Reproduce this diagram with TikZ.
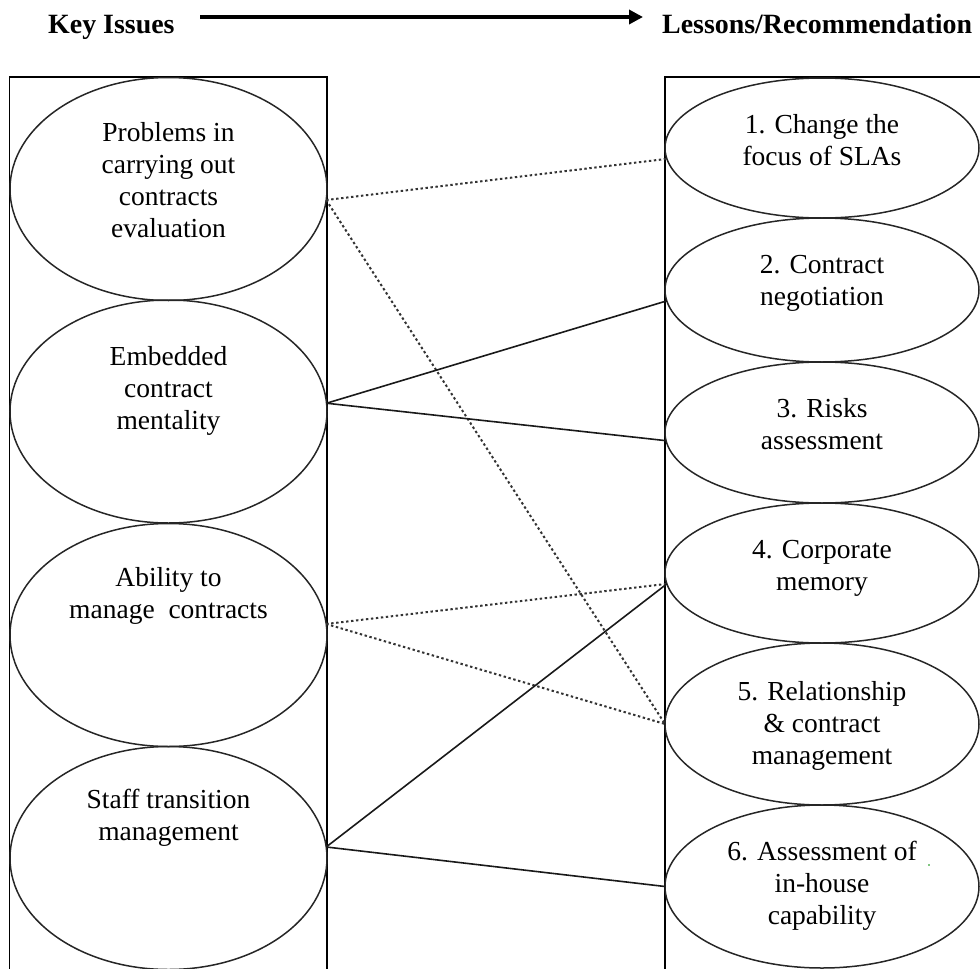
\documentclass[tikz,border=0pt]{standalone}
\usepackage{fontspec}
\setmainfont{Liberation Serif}
\usetikzlibrary{arrows.meta,shapes.geometric}

\begin{document}
\begin{tikzpicture}[x=1pt,y=-1pt,
  heading/.style={font=\bfseries\fontsize{27.9}{32}\selectfont, inner sep=0pt, anchor=base west},
  panel/.style={draw=black, line width=1.8pt},
  bubble/.style={ellipse, draw=black!85, line width=1.5pt, inner sep=0pt, outer sep=0pt},
  lbubble/.style={bubble, minimum width=317pt, minimum height=223pt},
  rbubble/.style={bubble, minimum width=314pt},
  caption/.style={font=\fontsize{27.5}{32}\selectfont, align=center, inner sep=0pt, anchor=north},
  solidlink/.style={draw=black!90, line width=1.6pt},
  dotlink/.style={draw=black!80, line width=2pt, dash pattern=on 2.4pt off 2.6pt},
]
\useasboundingbox (0,0) rectangle (980,969);
\clip (0,0) rectangle (980,969);

% headings and the arrow between them
\node[heading] (ki) at (48,33) {Key Issues};
\node[heading] (lr) at (662,33) {Lessons/Recommendation};
\coordinate (arrS) at (200,17);
\coordinate (arrE) at (643,17);
\draw[line width=3.4pt, -{Triangle[length=14pt,width=14pt]}] (arrS) -- (arrE);

% the two columns
\draw[panel] (9.5,77) rectangle (327,969.7);
\draw[panel] (665,77) rectangle (995,969.7);

% key issues
\node[lbubble] (L1) at (168.5,189) {};
\node[lbubble] (L2) at (168.5,411.5) {};
\node[lbubble] (L3) at (168.5,635) {};
\node[lbubble] (L4) at (168.5,858) {};

\node[caption] (L1t) at (168.5,118.6) {\strut Problems in\\carrying out\\contracts\\evaluation};
\node[caption] (L2t) at (168.5,342.6) {\strut Embedded\\contract\\mentality};
\node[caption] (L3t) at (168.5,563.6) {\strut Ability to\\manage\ \ contracts};
\node[caption] (L4t) at (168.5,785.6) {\strut Staff transition\\management};

% lessons / recommendations
\node[rbubble, minimum height=140pt] (R1) at (822,148) {};
\node[rbubble, minimum height=144pt] (R2) at (822,290) {};
\node[rbubble, minimum height=141pt] (R3) at (822,432.5) {};
\node[rbubble, minimum height=140pt] (R4) at (822,573) {};
\node[rbubble, minimum height=162pt] (R5) at (822,724) {};
\node[rbubble, minimum height=163pt] (R6) at (822,886.5) {};

\node[caption] (R1t) at (822,110.6) {\strut 1. Change the\\focus of SLAs};
\node[caption] (R2t) at (822,250.6) {\strut 2. Contract\\negotiation};
\node[caption] (R3t) at (822,394.6) {\strut 3. Risks\\assessment};
\node[caption] (R4t) at (822,535.6) {\strut 4. Corporate\\memory};
\node[caption] (R5t) at (822,677.6) {\strut 5. Relationship\\\& contract\\management};
\node[caption] (R6t) at (822,837.6) {\strut 6. Assessment of\\in-house\\capability};
\fill[green!55!black] (929,865) circle (0.9pt);

% links
\draw[dotlink]   (L1.-4)  -- (R1.184.4);
\draw[dotlink]   (L1.-4)  -- (R5.180);
\draw[solidlink] (L2.3.5) -- (R2.184.4);
\draw[solidlink] (L2.3.5) -- (R3.183.8);
\draw[dotlink]   (L3.4.4) -- (R4.184.4);
\draw[dotlink]   (L3.4.4) -- (R5.180);
\draw[solidlink] (L4.4)   -- (R4.184.4);
\draw[solidlink] (L4.4)   -- (R6.180.5);
\end{tikzpicture}
\end{document}
